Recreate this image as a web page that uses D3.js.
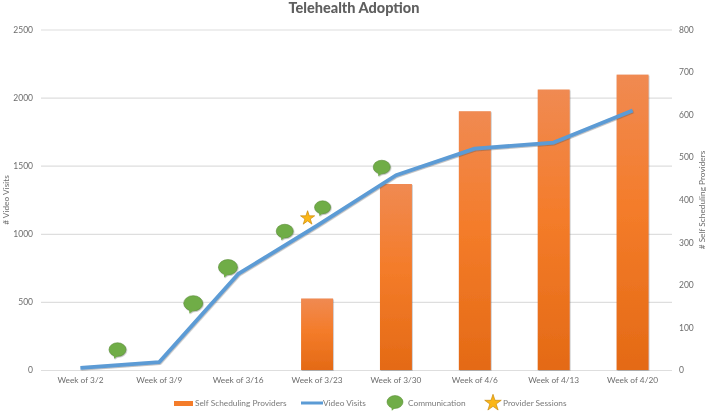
<!DOCTYPE html>
<html><head><meta charset="utf-8">
<script src="https://cdn.jsdelivr.net/npm/d3@7/dist/d3.min.js"></script>
<style>
html,body{margin:0;padding:0;background:#fff}
svg{display:block;font-family:Lato,"Open Sans",sans-serif;filter:blur(0.35px)}
</style></head><body><div id="chart"></div>
<script>
const weeks=["Week of 3/2","Week of 3/9","Week of 3/16","Week of 3/23","Week of 3/30","Week of 4/6","Week of 4/13","Week of 4/20"];
const videoVisits=[15,58,705,1060,1430,1625,1670,1905];
const selfScheduling=[null,null,null,168,437,608,659,694];
const leftTicks=[0,500,1000,1500,2000,2500];
const rightTicks=[0,100,200,300,400,500,600,700,800];
const commPos=[0.47,1.43,1.87,2.59,3.07,3.82];
const commVal=[150,490,755,1020,1195,1490];
const starPos=[2.88];
const starVal=[1115];

const W=709,H=414,m={l:41,r:37,t:29.5,b:44};
const svg=d3.select("#chart").append("svg").attr("width",W).attr("height",H);
const x=d3.scaleBand().domain(weeks).range([m.l,W-m.r]).paddingInner(0.595).paddingOuter(0.2975);
const xIdx=d3.scaleLinear().domain([0,7]).range([x(weeks[0])+x.bandwidth()/2,x(weeks[7])+x.bandwidth()/2]);
const yL=d3.scaleLinear().domain([0,2500]).range([H-m.b,m.t]);
const yR=d3.scaleLinear().domain([0,800]).range([H-m.b,m.t]);

const defs=svg.append("defs");
const g=defs.append("linearGradient").attr("id","bar").attr("x1",0).attr("x2",0).attr("y1",0).attr("y2",1);
g.append("stop").attr("offset","0%").attr("stop-color","#f08a52");
g.append("stop").attr("offset","45%").attr("stop-color","#f47c2a");
g.append("stop").attr("offset","100%").attr("stop-color","#e46a15");
const sh=defs.append("filter").attr("id","shadow").attr("x","-10%").attr("y","-10%").attr("width","120%").attr("height","120%");
sh.append("feDropShadow").attr("dx",0.6).attr("dy",0.8).attr("stdDeviation",0.7).attr("flood-color","#555").attr("flood-opacity",0.45);

svg.append("text").attr("x",354).attr("y",13).attr("text-anchor","middle")
  .attr("font-size",14.5).attr("font-weight",900).attr("fill","#5f5f5f").text("Telehealth Adoption");

const axL=svg.append("g").attr("transform",`translate(${m.l},0)`)
  .call(d3.axisLeft(yL).tickValues(leftTicks).tickFormat(d3.format("d")).tickSize(-(W-m.l-m.r)).tickPadding(8));
axL.select(".domain").remove();
axL.selectAll("line").attr("stroke","#dedede").attr("stroke-width",1.2);
axL.selectAll("text").attr("font-size",8.5).attr("fill","#6d6d6d").attr("font-family","Lato");

const axR=svg.append("g").attr("transform",`translate(${W-m.r},0)`)
  .call(d3.axisRight(yR).tickValues(rightTicks).tickFormat(d3.format("d")).tickSize(0).tickPadding(7));
axR.select(".domain").remove();
axR.selectAll("text").attr("font-size",8.5).attr("fill","#6d6d6d").attr("font-family","Lato");

const axB=svg.append("g").attr("transform",`translate(0,${H-m.b})`)
  .call(d3.axisBottom(x).tickSize(0).tickPadding(7));
axB.select(".domain").remove();
axB.selectAll("text").attr("font-size",8.3).attr("fill","#6d6d6d").attr("font-family","Lato");

svg.append("text").attr("transform",`translate(9,200) rotate(-90)`).attr("text-anchor","middle")
  .attr("font-size",8.3).attr("fill","#6d6d6d").text("# Video Visits");
svg.append("text").attr("transform",`translate(705,200) rotate(-90)`).attr("text-anchor","middle")
  .attr("font-size",8.3).attr("fill","#6d6d6d").text("# Self Scheduling Providers");

const barData=weeks.map((w,i)=>({w,v:selfScheduling[i]})).filter(d=>d.v!=null);
svg.append("g").selectAll("rect").data(barData).join("rect")
  .attr("x",d=>x(d.w)).attr("width",x.bandwidth())
  .attr("y",d=>yR(d.v)).attr("height",d=>yR(0)-yR(d.v))
  .attr("fill","url(#bar)").attr("filter","url(#shadow)");

const line=d3.line().x((d,i)=>xIdx(i)).y(d=>yL(d));
svg.append("path").datum(videoVisits).attr("d",line).attr("fill","none")
  .attr("stroke","#5b9bd5").attr("stroke-width",3.8).attr("stroke-linejoin","round").attr("filter","url(#shadow)");

function bubble(sel,cx,cy,r){
  sel.append("ellipse").attr("cx",cx).attr("cy",cy).attr("rx",r).attr("ry",r*0.8)
    .attr("fill","#70ad47").attr("stroke","#5a8f38").attr("stroke-width",0.6);
  sel.append("path").attr("d",`M${cx-r*0.45},${cy+r*0.5}L${cx-r*0.4},${cy+r*1.08}L${cx+r*0.1},${cy+r*0.7}Z`).attr("fill","#70ad47");
}
const sizes=[8.5,9.5,9.5,8.5,8,8.5];
commPos.forEach((p,i)=>{
  const s=svg.append("g").attr("filter","url(#shadow)");
  bubble(s,xIdx(p),yL(commVal[i]),sizes[i]);
});
const starGen=d3.symbol().type(d3.symbolStar);
function star(cx,cy,size){
  svg.append("path").attr("d",starGen.size(size)()).attr("transform",`translate(${cx},${cy})`)
    .attr("fill","#fbb616").attr("stroke","#c98a0c").attr("stroke-width",0.7);
}
starPos.forEach((p,i)=>star(xIdx(p),yL(starVal[i]),62));

const ly=403;
const lg=svg.append("g").attr("font-size",8.3).attr("fill","#7a7a7a");
lg.append("rect").attr("x",174).attr("y",ly-2).attr("width",19).attr("height",5).attr("fill","#f47c2a");
lg.append("text").attr("x",195).attr("y",ly+3).text("Self Scheduling Providers");
lg.append("line").attr("x1",301).attr("x2",323).attr("y1",ly).attr("y2",ly).attr("stroke","#5b9bd5").attr("stroke-width",3);
lg.append("text").attr("x",323).attr("y",ly+3).text("Video Visits");
bubble(lg.append("g"),395,ly-1,8);
lg.append("text").attr("x",408).attr("y",ly+3).text("Communication");
star(493,ly,85);
lg.append("text").attr("x",503).attr("y",ly+3).text("Provider Sessions");
</script></body></html>
